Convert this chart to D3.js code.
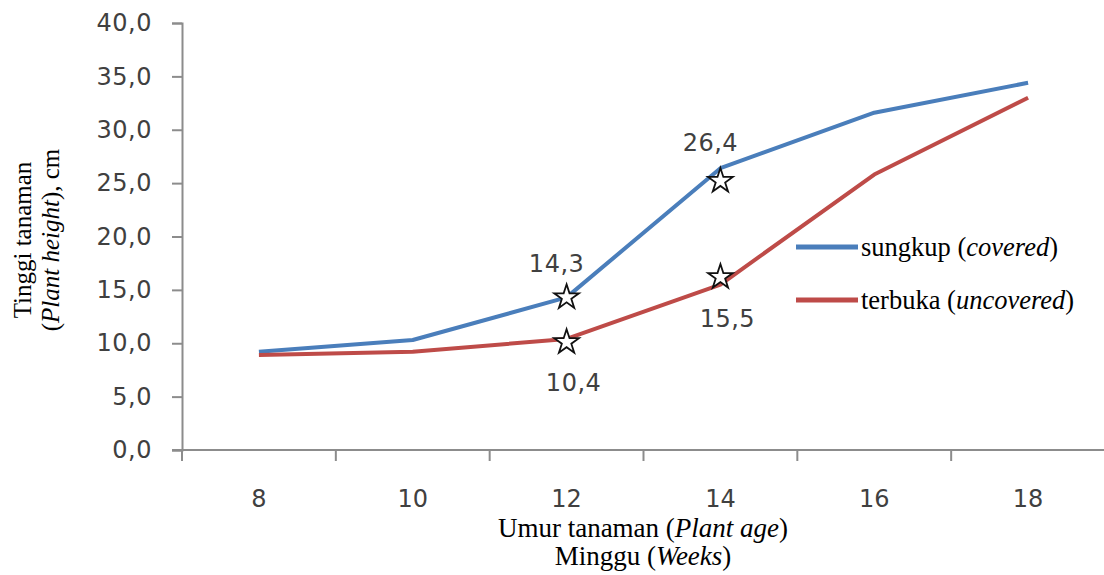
<!DOCTYPE html>
<html><head><meta charset="utf-8">
<script src="https://cdn.jsdelivr.net/npm/d3@7"></script>
<style>body{margin:0;background:#fff}svg{display:block}</style>
</head><body>
<svg id="c" width="1104" height="575"></svg>
<script>
const weeks = ["8","10","12","14","16","18"];
const sungkup = [9.2, 10.3, 14.3, 26.4, 31.6, 34.4];
const terbuka = [8.9, 9.2, 10.4, 15.5, 25.8, 33.0];
const yTicks = [0,5,10,15,20,25,30,35,40];
const starPoints = [
  {week:"12", value:14.3}, {week:"12", value:10.1},
  {week:"14", value:25.2}, {week:"14", value:16.2}
];
const valueLabels = [
  {week:"12", value:17.5, text:"14,3"},
  {week:"14", value:28.8, text:"26,4"},
  {week:"12", value:6.3, text:"10,4", dx:17},
  {week:"14", value:12.3, text:"15,5", dx:17}
];
const seriesNames = [["sungkup ","covered"],["terbuka ","uncovered"]];
const colors = ["#4a7ebb","#be4b48"];

const svg = d3.select("#c");
const L = 182, R = 1105, T = 23, B = 450;
const x = d3.scaleBand().domain(weeks).range([L, R]);
const y = d3.scaleLinear().domain([0,40]).range([B, T]);
const fmt = v => d3.format(".1f")(v).replace(".", ",");
const axisCol = "#8c8c8c";
const numFont = "'DejaVu Sans', Verdana, sans-serif";

// y axis
const ya = svg.append("g").attr("transform",`translate(${L},0)`)
  .call(d3.axisLeft(y).tickValues(yTicks).tickSize(10).tickPadding(20).tickFormat(fmt));
ya.select(".domain").attr("stroke",axisCol).attr("stroke-width",2);
ya.selectAll(".tick line").attr("stroke",axisCol).attr("stroke-width",2);
ya.selectAll(".tick text").attr("font-family",numFont).attr("font-size",24)
  .attr("fill","#404040").attr("letter-spacing","0.5px");

// x axis
svg.append("line").attr("x1",L-10).attr("x2",R).attr("y1",B).attr("y2",B)
  .attr("stroke",axisCol).attr("stroke-width",2);
svg.selectAll(".xt").data(weeks.concat(["end"])).join("line")
  .attr("x1",(d,i)=> i<weeks.length ? x(d) : R).attr("x2",(d,i)=> i<weeks.length ? x(d) : R)
  .attr("y1",B).attr("y2",B+11).attr("stroke",axisCol).attr("stroke-width",2);
svg.selectAll(".xl").data(weeks).join("text")
  .attr("x",d=>x(d)+x.bandwidth()/2).attr("y",B+57)
  .attr("text-anchor","middle").attr("font-family",numFont).attr("font-size",24)
  .attr("fill","#404040").text(d=>d);

// lines
const line = d3.line().x((d,i)=>x(weeks[i])+x.bandwidth()/2).y(d=>y(d));
[sungkup, terbuka].forEach((s,k)=>{
  svg.append("path").attr("d",line(s)).attr("fill","none")
    .attr("stroke",colors[k]).attr("stroke-width",4).attr("stroke-linejoin","round");
});

// stars
const star = d3.symbol().type(d3.symbolStar).size(190);
svg.selectAll(".st").data(starPoints).join("path")
  .attr("d",star).attr("transform",d=>`translate(${x(d.week)+x.bandwidth()/2},${y(d.value)})`)
  .attr("fill","#fff").attr("stroke","#111").attr("stroke-width",1.8);

// value labels
svg.selectAll(".vl").data(valueLabels).join("text")
  .attr("x",d=>x(d.week)+x.bandwidth()/2-10+(d.dx||0)).attr("y",d=>y(d.value))
  .attr("dy","0.35em").attr("text-anchor","middle")
  .attr("font-family",numFont).attr("font-size",24).attr("fill","#404040")
  .attr("letter-spacing","0.5px").text(d=>d.text);

// legend
const serif = "'Liberation Serif','Times New Roman',serif";
seriesNames.forEach((n,k)=>{
  const ly = 247 + k*53;
  svg.append("line").attr("x1",796).attr("x2",858).attr("y1",ly).attr("y2",ly)
    .attr("stroke",colors[k]).attr("stroke-width",5);
  const t = svg.append("text").attr("x",861).attr("y",ly+9)
    .attr("font-family",serif).attr("font-size",26.5).attr("fill","#000");
  t.append("tspan").text(n[0]+"(");
  t.append("tspan").attr("font-style","italic").text(n[1]);
  t.append("tspan").text(")");
});

// x title
const xt1 = svg.append("text").attr("x",643).attr("y",537).attr("text-anchor","middle")
  .attr("font-family",serif).attr("font-size",27);
xt1.append("tspan").text("Umur tanaman (");
xt1.append("tspan").attr("font-style","italic").text("Plant age");
xt1.append("tspan").text(")");
const xt2 = svg.append("text").attr("x",643).attr("y",565).attr("text-anchor","middle")
  .attr("font-family",serif).attr("font-size",27);
xt2.append("tspan").text("Minggu (");
xt2.append("tspan").attr("font-style","italic").text("Weeks");
xt2.append("tspan").text(")");

// y title
const yt = svg.append("g").attr("transform","translate(0,240) rotate(-90)");
yt.append("text").attr("x",0).attr("y",31).attr("text-anchor","middle")
  .attr("font-family",serif).attr("font-size",25).text("Tinggi tanaman");
const yt2 = yt.append("text").attr("x",0).attr("y",59).attr("text-anchor","middle")
  .attr("font-family",serif).attr("font-size",25);
yt2.append("tspan").text("(");
yt2.append("tspan").attr("font-style","italic").text("Plant height");
yt2.append("tspan").text("), cm");
</script>
</body></html>
